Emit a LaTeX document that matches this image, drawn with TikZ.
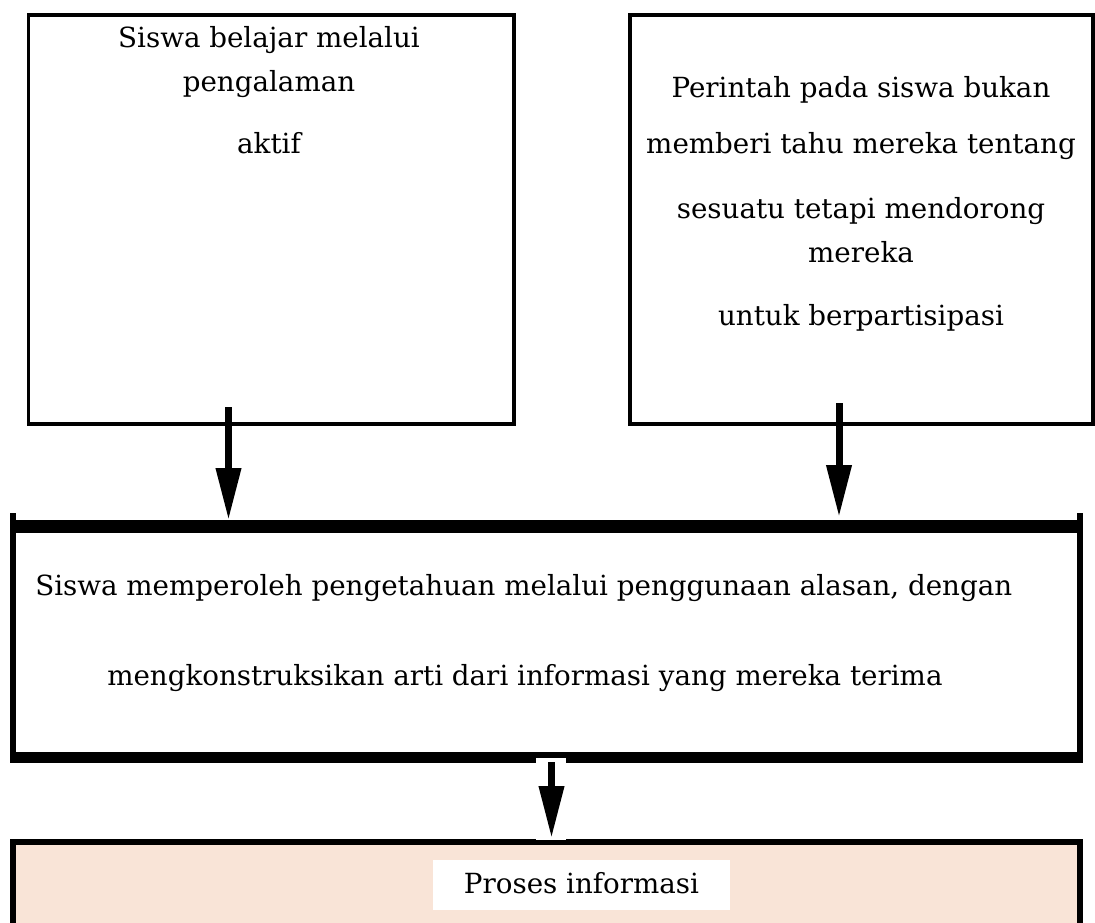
\documentclass[tikz,border=0pt]{standalone}
\usepackage{fontspec}
\setmainfont{DejaVu Serif}
\usetikzlibrary{arrows.meta}
\definecolor{peach}{RGB}{249,228,215}
\begin{document}
\begin{tikzpicture}[x=0.75pt,y=-0.75pt,
  box/.style={draw=black,fill=white,line width=2.6pt,inner sep=0pt,outer sep=0pt,anchor=north west},
  thickbox/.style={draw=black,line width=4.5pt,inner sep=0pt,outer sep=0pt,anchor=north west},
  txt/.style={anchor=base,inner sep=0pt,font=\fontsize{20.8}{25}\selectfont},
  bigarrow/.style={line width=5.25pt,-{Triangle[width=18pt,length=39pt]}},
]
\useasboundingbox (0,0) rectangle (1095,922);
\clip (0,0) rectangle (1095,922);
\fill[white] (0,0) rectangle (1095,922);

% top boxes
\node[box,minimum width=364pt,minimum height=306.75pt] (box1) at (28.5,15) {};
\node[box,minimum width=347.25pt,minimum height=306.75pt] (box2) at (630,15) {};

\node[txt] (t11) at (269,47) {Siswa belajar melalui};
\node[txt] (t12) at (269,91) {pengalaman};
\node[txt] (t13) at (269,153) {aktif};

\node[txt] (t21) at (861,97) {Perintah pada siswa bukan};
\node[txt] (t22) at (861,153) {memberi tahu mereka tentang};
\node[txt] (t23) at (861,218) {sesuatu tetapi mendorong};
\node[txt] (t24) at (861,262) {mereka};
\node[txt] (t25) at (861,325) {untuk berpartisipasi};

% middle box
\node[thickbox,fill=white,minimum width=800.25pt,minimum height=173.25pt] (mid) at (13,526.5) {};
\fill (16,520) rectangle (1077,533);
\fill (10,752) rectangle (1083,763);
\fill (10,513) rectangle (16,527);
\fill (1077,513) rectangle (1083,527);
\node[txt,anchor=base west] (m1) at (35,595) {Siswa memperoleh pengetahuan melalui penggunaan alasan, dengan};
\node[txt,anchor=base west] (m2) at (107,685) {mengkonstruksikan arti dari informasi yang mereka terima};

% arrows from top boxes
\coordinate (a1s) at (228.5,407);
\coordinate (a1e) at (228.5,520);
\coordinate (a2s) at (839,403);
\coordinate (a2e) at (839,517);
\draw[bigarrow] (a1s) -- (a1e);
\draw[bigarrow] (a2s) -- (a2e);

% bottom box
\node[thickbox,fill=peach,minimum width=800.25pt,minimum height=90pt] (bot) at (13,842) {};
\fill[white] (536,758) rectangle (566,839.5);
\coordinate (a3s) at (551.5,762);
\coordinate (a3e) at (551.5,838);
\draw[bigarrow] (a3s) -- (a3e);
\node[txt,anchor=base,fill=white,minimum width=222.75pt,inner ysep=0pt,text height=24.75pt,text depth=12.75pt] (lbl) at (581.5,893) {Proses informasi};
\end{tikzpicture}
\end{document}
